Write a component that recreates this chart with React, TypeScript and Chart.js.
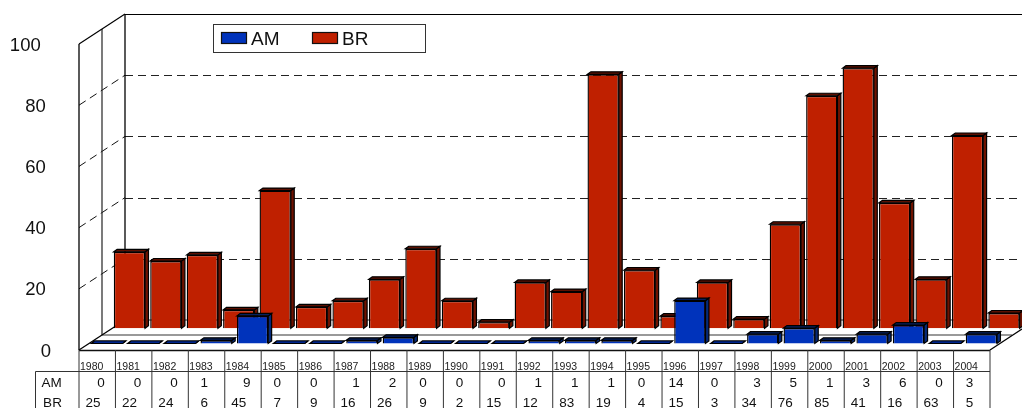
import React, { useEffect, useRef } from "react";
import { Chart, registerables } from "chart.js";

Chart.register(...registerables);

const years = ["1980","1981","1982","1983","1984","1985","1986","1987","1988","1989","1990","1991","1992","1993","1994","1995","1996","1997","1998","1999","2000","2001","2002","2003","2004"];
const amValues = [0,0,0,1,9,0,0,1,2,0,0,0,1,1,1,0,14,0,3,5,1,3,6,0,3];
const brValues = [25,22,24,6,45,7,9,16,26,9,2,15,12,83,19,4,15,3,34,76,85,41,16,63,5];
const yTicks = [0,20,40,60,80,100];
const seriesNames = ["AM","BR"];
const FONT = '"Liberation Sans", Arial, sans-serif';

const WIDTH = 1022, HEIGHT = 408;
const DEPTH_X = 46, DEPTH_Y = -30;          // front plane -> back wall
const ROW_SHIFT: Record<string, [number, number]> = { AM: [9.6, -6.6], BR: [32.2, -21.7] };
const BAR_DX = 3.4, BAR_DY = -2.5;
const FACE: Record<string, { front: string; side: string; top: string }> = {
  AM: { front: "#0033bb", side: "#062a78", top: "#04215f" },
  BR: { front: "#bf2000", side: "#6e1200", top: "#5c0f00" },
};
// AM cells whose number sits nearer the middle of the cell in the source table
const amCentred = ["1983","1985","1986","1989","1990","1995","1996","1997","2004"];

function line(ctx: CanvasRenderingContext2D, x1: number, y1: number, x2: number, y2: number, color = "#000", w = 1, dash: number[] = []) {
  ctx.save();
  ctx.beginPath();
  ctx.strokeStyle = color;
  ctx.lineWidth = w;
  ctx.setLineDash(dash);
  ctx.moveTo(x1, y1);
  ctx.lineTo(x2, y2);
  ctx.stroke();
  ctx.restore();
}

const walls3D = {
  id: "walls3D",
  beforeDatasetsDraw(chart: any) {
    const { ctx, scales: { y }, chartArea: a, width } = chart;
    const L = a.left, B = a.bottom, T = a.top;
    const backL = L + DEPTH_X;
    const midX = L + DEPTH_X / 2, midY = DEPTH_Y / 2;
    // dashed grid
    for (const v of yTicks) {
      if (v === 0 || v === 100) continue;
      const py = y.getPixelForValue(v);
      line(ctx, L, py, backL, py + DEPTH_Y, "#111", 1, [8, 5]);
      line(ctx, backL, Math.round(py + DEPTH_Y) + 0.5, width, Math.round(py + DEPTH_Y) + 0.5, "#222", 1, [8, 5]);
    }
    // floor lines
    line(ctx, backL, B + DEPTH_Y, width, B + DEPTH_Y, "#333", 1);
    line(ctx, midX, B + midY, a.right + 22, B + midY, "#777", 1.5);
    // walls
    line(ctx, L, T, L, B, "#000", 1.3);
    line(ctx, midX, T + midY, midX, B + midY, "#222", 1.2);
    line(ctx, backL, T + DEPTH_Y, backL, B + DEPTH_Y, "#000", 1.3);
    line(ctx, L, T, backL, T + DEPTH_Y, "#000", 1.2);
    line(ctx, backL, T + DEPTH_Y + 0.5, width, T + DEPTH_Y + 0.5, "#000", 1.2);
    line(ctx, L, B, backL, B + DEPTH_Y, "#000", 1.3);
    line(ctx, a.right, B, width, B - 21, "#000", 1.3);
    line(ctx, L, B + 0.5, a.right, B + 0.5, "#111", 1.5);
  },
};

const bars3D = {
  id: "bars3D",
  beforeDatasetDraw(chart: any, args: any) {
    const { ctx } = chart;
    const name = chart.data.datasets[args.index].label;
    const [sx, sy] = ROW_SHIFT[name];
    const face = FACE[name];
    ctx.save();
    ctx.translate(sx, sy);
    ctx.lineWidth = 1.2;
    ctx.strokeStyle = "#000";
    for (const bar of args.meta.data) {
      const { x, y, base, width } = bar.getProps(["x", "y", "base", "width"], true);
      const l = x - width / 2, r = x + width / 2;
      ctx.fillStyle = face.side;
      ctx.beginPath();
      ctx.moveTo(r, y); ctx.lineTo(r + BAR_DX, y + BAR_DY); ctx.lineTo(r + BAR_DX, base + BAR_DY); ctx.lineTo(r, base);
      ctx.closePath(); ctx.fill(); ctx.stroke();
      const flat = base - y < 0.5;
      ctx.fillStyle = flat ? face.front : face.top;
      ctx.beginPath();
      ctx.moveTo(l, y); ctx.lineTo(l + BAR_DX, y + BAR_DY); ctx.lineTo(r + BAR_DX, y + BAR_DY); ctx.lineTo(r, y);
      ctx.closePath(); ctx.fill(); ctx.stroke();
    }
  },
  afterDatasetDraw(chart: any) {
    chart.ctx.restore();
  },
};

const dataTable = {
  id: "dataTable",
  afterDraw(chart: any) {
    const { ctx, scales: { x }, chartArea: a, height } = chart;
    const step = (a.right - a.left) / years.length;
    const headY = 371.5, leftX = 35.5;
    const lineColor = "#333";
    line(ctx, leftX, headY, a.right, headY, lineColor, 1);
    line(ctx, leftX, headY, leftX, height, lineColor, 1);
    for (let i = 0; i <= years.length; i++) {
      const px = a.left + i * step;
      line(ctx, px, a.bottom, px, height, lineColor, 1);
    }
    ctx.save();
    ctx.font = `13.5px ${FONT}`;
    ctx.fillStyle = "#111";
    ctx.textBaseline = "middle";
    ctx.textAlign = "center";
    ctx.fillText(seriesNames[0], 51.5, 383.5);
    ctx.fillText(seriesNames[1], 52.5, 403);
    years.forEach((yr, i) => {
      const cell = x.getPixelForValue(i) - step / 2;
      const am = amValues[i], br = brValues[i];
      const amOff = amCentred.includes(yr) ? (am > 9 ? 14 : 16) : 22;
      ctx.fillText(String(am), cell + amOff, 383.5);
      ctx.fillText(String(br), cell + (br > 9 ? 14 : 16), 403);
    });
    ctx.restore();

    // legend
    ctx.save();
    line(ctx, 213, 24.5, 426, 24.5, "#333", 1);
    line(ctx, 213, 52.5, 426, 52.5, "#333", 1);
    line(ctx, 213.5, 24, 213.5, 53, "#333", 1);
    line(ctx, 425.5, 24, 425.5, 53, "#333", 1);
    ctx.font = `19px ${FONT}`;
    ctx.textBaseline = "middle";
    ctx.textAlign = "left";
    const slots = [[221, 251], [312, 342]];
    seriesNames.forEach((name, i) => {
      const [bx, tx] = slots[i];
      ctx.fillStyle = FACE[name].front;
      ctx.strokeStyle = "#111";
      ctx.lineWidth = 1.2;
      ctx.fillRect(bx, 32, 26, 12);
      ctx.strokeRect(bx + 0.5, 32.5, 25, 11);
      ctx.fillStyle = "#111";
      ctx.fillText(name, tx, 39.5);
    });
    ctx.restore();
  },
};

export default function App() {
  const ref = useRef<HTMLCanvasElement>(null);
  useEffect(() => {
    document.body.style.margin = "0";
    document.body.style.overflow = "hidden";
    const bar = (i: number, values: number[]) => ({
      label: seriesNames[i],
      data: values,
      backgroundColor: FACE[seriesNames[i]].front,
      borderColor: "#000",
      borderWidth: 1.4,
      barPercentage: 0.859,
      categoryPercentage: 1,
      grouped: false,
      clip: false as any,
    });
    const chart = new Chart(ref.current!, {
      type: "bar",
      data: { labels: years, datasets: [bar(0, amValues), bar(1, brValues)] },
      plugins: [walls3D, bars3D, dataTable],
      options: {
        responsive: false,
        animation: false,
        maintainAspectRatio: false,
        layout: { padding: { left: 0, top: 44, right: 32, bottom: 0 } },
        plugins: { legend: { display: false }, tooltip: { enabled: false } },
        scales: {
          x: {
            type: "category",
            grid: { display: false, drawTicks: false },
            border: { display: false },
            afterFit(s: any) { s.height = 58; },
            ticks: {
              autoSkip: false, maxRotation: 0, minRotation: 0,
              align: "start", labelOffset: -17.2, padding: 11,
              color: "#222", font: { family: FONT, size: 10.5 },
            },
          },
          y: {
            type: "linear", min: 0, max: 100,
            grid: { display: false, drawTicks: false },
            border: { display: false },
            afterFit(s: any) { s.width = 79; },
            ticks: {
              stepSize: 20, padding: 28, labelOffset: 1.5,
              color: "#111", font: { family: FONT, size: 18.5 },
              callback: (v: any) => (v === 100 ? "100  " : v === 0 ? "0" : `${v} `),
            },
          },
        },
      },
    });
    return () => chart.destroy();
  }, []);
  return <canvas ref={ref} width={WIDTH} height={HEIGHT} style={{ display: "block" }} />;
}
